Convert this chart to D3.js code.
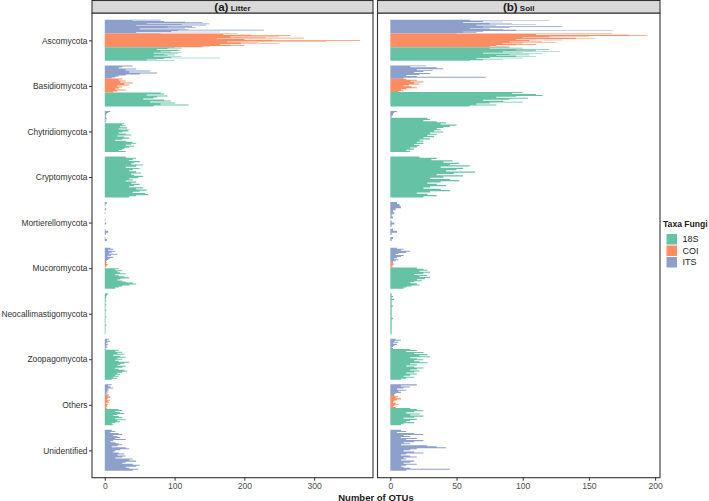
<!DOCTYPE html>
<html>
<head>
<meta charset="utf-8">
<script src="https://cdn.jsdelivr.net/npm/d3@7"></script>
<style>
  body { margin: 0; background: #fff; }
  text { font-family: "Liberation Sans", Arial, sans-serif; }
</style>
</head>
<body>
<div class="layout"></div>
<script>
// phyla, top to bottom
var phyla = ["Ascomycota", "Basidiomycota", "Chytridiomycota", "Cryptomycota", "Mortierellomycota",
             "Mucoromycota", "Neocallimastigomycota", "Zoopagomycota", "Others", "Unidentified"];
var markerOrder = ["ITS", "COI", "18S"];     // order of the dodged bars inside a phylum
var legendOrder = ["18S", "COI", "ITS"];
var litterTicks = [0, 100, 200, 300];
var soilTicks = [0, 50, 100, 150, 200];

// number of OTUs per sample, one array per phylum (same order as phyla)
var litterITS = [
  [80, 40, 85, 115, 140, 60, 150, 110, 145, 45, 125, 90, 130, 115, 50, 120, 228, 105, 95, 165, 45, 80],
  [40, 25, 20, 45, 30, 65, 35, 75, 50, 30, 20, 15, 10],
  [8, 5, 3, 2, 2, 1, 2, 3, 1, 2, 1, 1],
  [],
  [3, 1, 0, 2, 0, 1, 0, 0, 1, 0, 2, 0, 0, 1, 5, 2, 0, 1, 3, 0],
  [8, 12, 5, 15, 10, 6, 18, 9, 4, 12, 7, 5, 3, 2],
  [],
  [6, 3, 8, 4, 2, 5, 3, 2, 4, 1, 2],
  [10, 5, 8, 12, 4, 6, 3, 5, 2, 4],
  [10, 15, 8, 20, 25, 12, 18, 22, 15, 30, 12, 8, 15, 20, 25, 18, 10, 30, 35, 22, 15, 12, 20, 28, 18, 30, 25, 15, 40, 35, 45, 30, 25, 40, 50, 45, 30, 35, 48, 40]
];
var litterCOI = [
  [190, 170, 210, 266, 250, 180, 230, 285, 160, 200, 240, 366, 318, 175, 220, 195, 250, 165, 180, 200, 150, 140],
  [25, 20, 30, 22, 40, 28, 35, 18, 25, 20, 15, 30, 18, 12],
  [], [], [],
  [3, 2, 4, 3, 2, 1],
  [], [],
  [6, 4, 8, 5, 3, 7, 4, 6, 2, 5, 3, 4, 2, 3],
  []
];
var litter18S = [
  [100, 110, 90, 75, 105, 108, 80, 95, 110, 70, 105, 85, 100, 90, 70, 110, 95, 165, 85, 75, 60, 100],
  [80, 85, 60, 90, 75, 70, 55, 85, 95, 65, 101, 80, 120, 70],
  [28, 25, 30, 22, 32, 20, 35, 33, 25, 20, 30, 38, 18, 28, 35, 25, 15, 30, 40, 45, 38, 30, 42, 35, 28, 25, 20, 30],
  [30, 45, 40, 35, 50, 42, 38, 55, 45, 30, 50, 40, 35, 45, 52, 38, 42, 55, 48, 35, 40, 30, 45, 38, 50, 42, 35, 55, 45, 60, 50, 40, 58, 62, 45, 35],
  [],
  [20, 15, 25, 18, 22, 30, 15, 20, 28, 35, 22, 18, 25, 30, 40, 45, 35, 25, 20, 15],
  [5, 3, 2, 2, 1, 2, 1, 1, 2, 1, 1, 1, 2, 1, 1, 1, 1, 2, 1, 1, 1, 1, 1, 2, 1, 1, 1, 1, 1, 1],
  [20, 15, 25, 18, 28, 12, 22, 30, 18, 25, 15, 20, 35, 28, 22, 18, 30, 25, 15, 20, 28, 32, 25, 18, 22, 15, 20, 12, 18, 10],
  [20, 25, 15, 22, 28, 18, 12, 20, 25, 15, 30, 18, 22, 15, 10, 12],
  []
];
var soilITS = [
  [60, 120, 70, 85, 55, 92, 75, 110, 65, 80, 130, 70, 90, 60, 75, 85, 95, 168, 70, 55, 65, 50],
  [27, 15, 35, 40, 20, 32, 25, 18, 30, 22, 12, 20, 72, 10],
  [5, 3, 2, 2, 1, 1],
  [],
  [5, 7, 8, 4, 2, 3, 1, 2, 0, 1, 3, 1, 0, 2, 5, 1, 0, 2, 1, 0],
  [5, 10, 8, 15, 12, 6, 4, 10, 8, 5, 3, 6, 4, 2],
  [],
  [4, 8, 3, 6, 2, 5, 3, 2, 1, 2],
  [20, 8, 15, 10, 5, 12, 6, 8, 4, 3],
  [8, 12, 5, 18, 25, 10, 15, 8, 20, 12, 25, 18, 10, 15, 8, 28, 35, 42, 20, 15, 10, 18, 25, 12, 8, 15, 20, 10, 12, 8, 18, 15, 10, 20, 12, 8, 10, 15, 45, 12]
];
var soilCOI = [
  [168, 110, 180, 194, 150, 120, 100, 140, 155, 95, 130, 105, 115, 90, 125, 100, 85, 110, 95, 80, 90, 75],
  [12, 20, 15, 25, 18, 22, 14, 10, 16, 20, 12, 8, 10, 6],
  [], [], [],
  [2, 3, 2, 1, 2],
  [], [],
  [3, 6, 4, 8, 5, 3, 2, 4, 6, 3, 2, 4],
  []
];
var soil18S = [
  [90, 100, 75, 120, 95, 110, 128, 85, 100, 70, 115, 90, 105, 80, 95, 110, 75, 100, 65, 85, 70, 60],
  [100, 92, 110, 115, 95, 80, 104, 90, 70, 85, 100, 75, 65, 80, 60],
  [28, 30, 25, 35, 42, 38, 50, 45, 40, 35, 38, 33, 40, 30, 35, 28, 33, 25, 30, 22, 25, 20, 25, 18, 22, 20, 15, 18, 12, 15],
  [22, 35, 31, 47, 40, 52, 45, 60, 38, 55, 50, 42, 64, 48, 35, 55, 40, 30, 45, 52, 38, 28, 35, 42, 30, 25, 38, 45, 30, 20, 28, 35, 25],
  [],
  [20, 25, 28, 22, 30, 25, 18, 28, 22, 30, 26, 20, 24, 18, 15, 20, 22, 16, 12, 10],
  [1, 1, 2, 1, 3, 1, 1, 1, 1, 2, 1, 1, 1, 1, 1, 1, 1, 1, 2, 1, 1, 1, 1, 1, 1, 1, 1, 1, 1, 1],
  [15, 20, 12, 25, 18, 28, 22, 30, 15, 20, 25, 18, 22, 28, 15, 20, 12, 18, 25, 20, 15, 22, 18, 12, 20, 15, 10, 18, 12, 8],
  [15, 20, 25, 18, 12, 22, 15, 25, 18, 10, 20, 15, 12, 18, 10, 8],
  []
];

var colors = {"18S": "#66C2A5", "COI": "#FC8D62", "ITS": "#8DA0CB"};

var W = 709, H = 501;
var plotTop = 13, plotBottom = 477.7, stripH = 12.5;
var panels = [
  {name: "Litter", tag: "(a)", x0: 92, x1: 373, ticks: litterTicks, data: [litterITS, litterCOI, litter18S]},
  {name: "Soil", tag: "(b)", x0: 377.5, x1: 660, ticks: soilTicks, data: [soilITS, soilCOI, soil18S]}
];

var svg = d3.select(".layout").append("svg")
    .attr("width", W)
    .attr("height", H);

// discrete y positions, ggplot style expansion of 0.6
var yPhylum = d3.scalePoint()
    .domain(phyla)
    .range([plotTop, plotBottom])
    .padding(0.6);
var step = yPhylum.step();

panels.forEach(function(p) {
  var maxVal = d3.max(p.data, function(m) { return d3.max(m, function(arr) { return d3.max(arr) || 0; }); });
  var x = d3.scaleLinear()
      .domain([-0.05 * maxVal, 1.05 * maxVal])
      .range([p.x0, p.x1]);

  var g = svg.append("g").attr("class", "panel");

  phyla.forEach(function(ph, i) {
    var n = d3.sum(markerOrder, function(mk, j) { return p.data[j][i].length; });
    if (!n) return;
    var c = yPhylum(ph);
    var yBar = d3.scaleBand()
        .domain(d3.range(n))
        .range([c - 0.45 * step, c + 0.45 * step])
        .padding(0);
    var bw = yBar.bandwidth();
    // dodged bars of one marker are drawn as one stepped outline, so thin
    // neighbouring bars do not leave seams between them
    var area = d3.area()
        .curve(d3.curveStepBefore)
        .y(function(d) { return d.y; })
        .x0(x(0))
        .x1(function(d) { return x(d.value); });
    var offset = 0;
    markerOrder.forEach(function(mk, j) {
      var vals = p.data[j][i];
      if (!vals.length) return;
      var pts = vals.map(function(v, k) { return {y: yBar(offset + k), value: v}; });
      pts.push({y: yBar(offset + vals.length - 1) + bw, value: vals[vals.length - 1]});
      g.append("path")
          .datum(pts)
          .attr("class", "bars " + mk)
          .attr("d", area)
          .attr("fill", colors[mk]);
      offset += vals.length;
    });
  });

  // panel border
  g.append("rect")
      .attr("x", p.x0).attr("y", plotTop)
      .attr("width", p.x1 - p.x0).attr("height", plotBottom - plotTop)
      .attr("fill", "none")
      .attr("stroke", "#333").attr("stroke-width", 1.1);

  // strip
  g.append("rect")
      .attr("x", p.x0).attr("y", 0.5)
      .attr("width", p.x1 - p.x0).attr("height", stripH)
      .attr("fill", "#D9D9D9")
      .attr("stroke", "#333").attr("stroke-width", 1.1);
  var st = g.append("text")
      .attr("x", (p.x0 + p.x1) / 2)
      .attr("y", 10.5)
      .attr("text-anchor", "middle")
      .attr("font-weight", "bold")
      .attr("fill", "#1a1a1a");
  st.append("tspan").attr("font-size", "11.5px").text(p.tag);
  st.append("tspan").attr("font-size", "8px").text(" " + p.name);

  // x axis
  var xAxis = d3.axisBottom(x)
      .tickValues(p.ticks)
      .tickSize(3)
      .tickPadding(2)
      .tickFormat(d3.format("d"));
  var ax = g.append("g")
      .attr("class", "x axis")
      .attr("transform", "translate(0," + plotBottom + ")")
      .call(xAxis);
  ax.select(".domain").remove();
  ax.selectAll("line").attr("stroke", "#333");
  ax.selectAll("text").attr("font-size", "8.6px").attr("fill", "#4d4d4d")
      .attr("font-family", "Liberation Sans, Arial, sans-serif");
});

// y axis on the left panel
var yAxis = d3.axisLeft(yPhylum)
    .tickSize(3)
    .tickPadding(1.5);
var ay = svg.append("g")
    .attr("class", "y axis")
    .attr("transform", "translate(" + panels[0].x0 + ",0)")
    .call(yAxis);
ay.select(".domain").remove();
ay.selectAll("line").attr("stroke", "#333");
ay.selectAll("text").attr("font-size", "8.4px").attr("fill", "#333")
    .attr("font-family", "Liberation Sans, Arial, sans-serif");

// axis title
svg.append("text")
    .attr("x", (panels[0].x0 + panels[1].x1) / 2)
    .attr("y", 500.5)
    .attr("text-anchor", "middle")
    .attr("font-size", "9.5px")
    .attr("font-weight", "bold")
    .attr("fill", "#1a1a1a")
    .text("Number of OTUs");

// legend
var lg = svg.append("g").attr("transform", "translate(663,0)");
lg.append("text")
    .attr("x", 0).attr("y", 226.5)
    .attr("font-size", "8.6px")
    .attr("font-weight", "bold")
    .attr("fill", "#1a1a1a")
    .text("Taxa Fungi");
var key = 11.5;
var item = lg.selectAll(".key")
    .data(legendOrder)
    .join("g")
    .attr("class", "key")
    .attr("transform", function(d, i) { return "translate(3," + (233.5 + i * key) + ")"; });
item.append("rect")
    .attr("width", key - 1).attr("height", key - 1)
    .attr("x", 0.5).attr("y", 0.5)
    .attr("fill", function(d) { return colors[d]; });
item.append("text")
    .attr("x", key + 5).attr("y", key / 2 + 3.2)
    .attr("font-size", "9px")
    .attr("fill", "#1a1a1a")
    .text(function(d) { return d; });
</script>
</body>
</html>
